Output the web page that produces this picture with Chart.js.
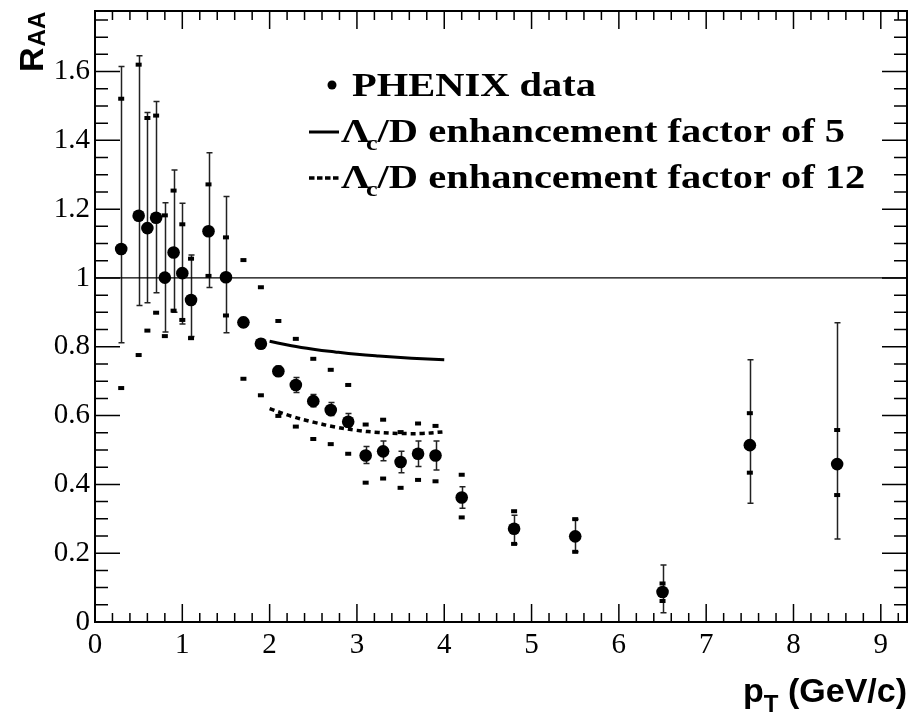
<!DOCTYPE html>
<html>
<head>
<meta charset="utf-8">
<script src="https://cdn.jsdelivr.net/npm/chart.js@4.4.1/dist/chart.umd.min.js"></script>
<style>
  html, body { margin: 0; padding: 0; background: #fff; }
</style>
</head>
<body>
<canvas id="myChart" width="915" height="715"></canvas>
<script>
// PHENIX R_AA points (pT in GeV/c)
const ptVals  = [0.3, 0.5, 0.6, 0.7, 0.8, 0.9, 1.0, 1.1, 1.3, 1.5, 1.7, 1.9, 2.1, 2.3, 2.5, 2.7, 2.9, 3.1, 3.3, 3.5, 3.7, 3.9, 4.2, 4.8, 5.5, 6.5, 7.5, 8.5];
const raaVals = [1.084, 1.181, 1.145, 1.175, 1.001, 1.074, 1.014, 0.936, 1.136, 1.002, 0.871, 0.809, 0.729, 0.689, 0.642, 0.616, 0.582, 0.484, 0.496, 0.465, 0.489, 0.484, 0.362, 0.271, 0.249, 0.087, 0.514, 0.459];
// statistical error bar ends
const statHi  = [1.615, 1.646, 1.481, 1.513, 1.219, 1.314, 1.217, 1.067, 1.364, 1.237, 0.885, 0.822, 0.744, 0.711, 0.661, 0.638, 0.606, 0.510, 0.526, 0.496, 0.526, 0.526, 0.393, 0.310, 0.299, 0.166, 0.762, 0.870];
const statLo  = [0.812, 0.920, 0.928, 0.957, 0.843, 0.900, 0.866, 0.830, 0.972, 0.841, 0.857, 0.796, 0.714, 0.667, 0.626, 0.600, 0.566, 0.461, 0.469, 0.434, 0.452, 0.442, 0.331, 0.227, 0.204, 0.027, 0.345, 0.241];
// systematic ends (small boxes)
const sysHi   = [1.521, 1.620, 1.465, 1.472, 1.182, 1.254, 1.156, 1.056, 1.272, 1.118, 1.052, 0.973, 0.875, 0.823, 0.765, 0.733, 0.689, 0.574, 0.588, 0.552, 0.577, 0.570, 0.428, 0.322, 0.299, 0.112, 0.607, 0.558];
const sysLo   = [0.680, 0.776, 0.847, 0.899, 0.831, 0.905, 0.878, 0.825, 1.006, 0.891, 0.707, 0.659, 0.599, 0.568, 0.532, 0.517, 0.489, 0.405, 0.417, 0.390, 0.413, 0.409, 0.304, 0.227, 0.204, 0.061, 0.434, 0.369];

// model curves
const modelPt   = [2.0, 2.25, 2.5, 2.75, 3.0, 3.25, 3.5, 3.75, 4.0];
const model5    = [0.816, 0.803, 0.793, 0.785, 0.778, 0.773, 0.769, 0.765, 0.762];
const model12   = [0.620, 0.598, 0.581, 0.567, 0.557, 0.551, 0.548, 0.548, 0.553];

const refLineX = [0, 9.3];
const refLineY = [1, 1];

const xTicks = [0, 1, 2, 3, 4, 5, 6, 7, 8, 9];
const yTicks = [0, 0.2, 0.4, 0.6, 0.8, 1.0, 1.2, 1.4, 1.6];
const X_MAX = 9.3, Y_MAX = 1.776;

const toXY = (xs, ys) => xs.map((v, i) => ({x: v, y: ys[i]}));

const TEXT_SX = 1.19; // legend text in the reference is a bit wide

const errorBars = {
    id: 'errorBars',
    beforeDatasetsDraw(chart) {
        const {ctx, scales: {x, y}} = chart;
        ctx.save();
        ctx.strokeStyle = '#222';
        ctx.lineWidth = 1.5;
        ptVals.forEach((v, i) => {
            const px = Math.round(x.getPixelForValue(v)) + 0.5;
            const top = y.getPixelForValue(statHi[i]);
            const bot = y.getPixelForValue(statLo[i]);
            ctx.beginPath();
            ctx.moveTo(px, top); ctx.lineTo(px, bot);
            ctx.moveTo(px - 3, top); ctx.lineTo(px + 3, top);
            ctx.moveTo(px - 3, bot); ctx.lineTo(px + 3, bot);
            ctx.stroke();
        });
        ctx.restore();
    }
};

const frameTicks = {
    id: 'frameTicks',
    afterDraw(chart) {
        const {ctx, chartArea: a, scales: {x, y}} = chart;
        ctx.save();
        ctx.strokeStyle = '#000';
        ctx.lineWidth = 1.5;
        ctx.beginPath();
        for (let i = 0; i * 0.2 <= X_MAX + 1e-9; i++) {
            const px = x.getPixelForValue(i * 0.2);
            const len = i % 5 === 0 ? 18 : 9;
            ctx.moveTo(px, a.bottom); ctx.lineTo(px, a.bottom - len);
            ctx.moveTo(px, a.top); ctx.lineTo(px, a.top + len);
        }
        for (let i = 0; i * 0.05 <= Y_MAX + 1e-9; i++) {
            const py = y.getPixelForValue(i * 0.05);
            const len = i % 4 === 0 ? 25 : 13;
            ctx.moveTo(a.left, py); ctx.lineTo(a.left + len, py);
            ctx.moveTo(a.right, py); ctx.lineTo(a.right - len, py);
        }
        ctx.stroke();
        ctx.lineWidth = 2;
        ctx.strokeRect(a.left, a.top, a.right - a.left, a.bottom - a.top);
        ctx.restore();
    }
};

// draws a run of text pieces, stretched horizontally, returns end x
function drawRun(ctx, x0, baseline, pieces) {
    let cx = x0;
    pieces.forEach(p => {
        ctx.font = p.font;
        const w = ctx.measureText(p.text).width;
        ctx.save();
        ctx.translate(cx + (p.dx || 0), baseline + (p.dy || 0));
        ctx.scale(TEXT_SX, 1);
        ctx.fillText(p.text, 0, 0);
        ctx.restore();
        cx += w * TEXT_SX + (p.dx || 0);
    });
    return cx;
}

const legendText = {
    id: 'legendText',
    afterDraw(chart) {
        const ctx = chart.ctx;
        ctx.save();
        ctx.fillStyle = '#000';
        ctx.strokeStyle = '#000';
        ctx.textBaseline = 'alphabetic';
        ctx.textAlign = 'left';
        const big = 'bold 34px "Liberation Serif"';
        const sub = 'bold 22px "Liberation Serif"';

        // row 1
        ctx.beginPath();
        ctx.arc(332, 85, 4.5, 0, Math.PI * 2);
        ctx.fill();
        drawRun(ctx, 352, 96, [{text: 'PHENIX data', font: big}]);

        // row 2
        ctx.lineWidth = 3;
        ctx.beginPath();
        ctx.moveTo(309, 132); ctx.lineTo(339, 132);
        ctx.stroke();
        drawRun(ctx, 341, 142, [
            {text: 'Λ', font: big},
            {text: 'c', font: sub, dx: -4, dy: 8},
            {text: '/D enhancement factor of 5', font: big}
        ]);

        // row 3
        ctx.setLineDash([5.5, 2.5]);
        ctx.lineWidth = 3.5;
        ctx.beginPath();
        ctx.moveTo(309, 178); ctx.lineTo(339, 178);
        ctx.stroke();
        ctx.setLineDash([]);
        drawRun(ctx, 341, 188, [
            {text: 'Λ', font: big},
            {text: 'c', font: sub, dx: -4, dy: 8},
            {text: '/D enhancement factor of 12', font: big}
        ]);

        // axis titles
        const tBig = 'bold 34px "Liberation Sans"';
        const tSub = 'bold 24px "Liberation Sans"';
        // x title, right aligned at frame edge
        ctx.font = tBig;
        const wP = ctx.measureText('p').width;
        const wG = ctx.measureText(' (GeV/c)').width;
        ctx.font = tSub;
        const wT = ctx.measureText('T').width;
        const xEnd = chart.chartArea.right;
        const xStart = xEnd - (wP + wT + wG);
        ctx.font = tBig;
        ctx.fillText('p', xStart, 702);
        ctx.font = tSub;
        ctx.fillText('T', xStart + wP, 712);
        ctx.font = tBig;
        ctx.fillText(' (GeV/c)', xStart + wP + wT, 702);

        // y title, rotated
        ctx.save();
        ctx.translate(43, 72);
        ctx.rotate(-Math.PI / 2);
        ctx.font = tBig;
        ctx.fillText('R', 0, 0);
        const wR = ctx.measureText('R').width;
        ctx.font = tSub;
        ctx.fillText('AA', wR + 1, 2);
        ctx.restore();

        ctx.restore();
    }
};

const tickFont = {family: '"Liberation Serif"', size: 29};

const myChart = new Chart(document.getElementById('myChart').getContext('2d'), {
    type: 'scatter',
    data: {
        datasets: [
            {
                label: 'ref',
                data: toXY(refLineX, refLineY),
                showLine: true,
                borderColor: '#000',
                borderWidth: 1.3,
                pointRadius: 0
            },
            {
                label: 'factor 5',
                data: toXY(modelPt, model5),
                showLine: true,
                borderColor: '#000',
                borderWidth: 3,
                pointRadius: 0,
                tension: 0.4
            },
            {
                label: 'factor 12',
                data: toXY(modelPt, model12),
                showLine: true,
                borderColor: '#000',
                borderWidth: 3.5,
                borderDash: [5, 4],
                pointRadius: 0,
                tension: 0.4
            },
            {
                label: 'sys hi',
                data: toXY(ptVals, sysHi),
                pointStyle: 'line',
                pointRadius: 3,
                pointBorderWidth: 4,
                pointBorderColor: '#000'
            },
            {
                label: 'sys lo',
                data: toXY(ptVals, sysLo),
                pointStyle: 'line',
                pointRadius: 3,
                pointBorderWidth: 4,
                pointBorderColor: '#000'
            },
            {
                label: 'PHENIX data',
                data: toXY(ptVals, raaVals),
                pointStyle: 'circle',
                pointRadius: 6.3,
                pointBorderWidth: 0,
                pointBackgroundColor: '#000'
            }
        ]
    },
    options: {
        responsive: false,
        animation: false,
        events: [],
        layout: { padding: { top: 11, right: 6, left: 0, bottom: 0 } },
        plugins: {
            legend: { display: false },
            tooltip: { enabled: false }
        },
        scales: {
            x: {
                type: 'linear',
                min: 0,
                max: X_MAX,
                afterBuildTicks: s => { s.ticks = xTicks.map(v => ({value: v})); },
                afterFit: s => { s.height = 93; s.paddingLeft = 0; s.paddingRight = 0; },
                grid: { display: false, drawTicks: false },
                border: { display: false },
                ticks: {
                    font: tickFont,
                    color: '#000',
                    padding: 6,
                    maxRotation: 0,
                    autoSkip: false,
                    callback: v => String(v)
                }
            },
            y: {
                type: 'linear',
                min: 0,
                max: Y_MAX,
                afterBuildTicks: s => { s.ticks = yTicks.map(v => ({value: v})); },
                afterFit: s => { s.width = 95; s.paddingTop = 0; s.paddingBottom = 0; },
                grid: { display: false, drawTicks: false },
                border: { display: false },
                ticks: {
                    font: tickFont,
                    color: '#000',
                    padding: 5,
                    autoSkip: false,
                    callback: v => String(Math.round(v * 10) / 10)
                }
            }
        }
    },
    plugins: [errorBars, frameTicks, legendText]
});
</script>
</body>
</html>
